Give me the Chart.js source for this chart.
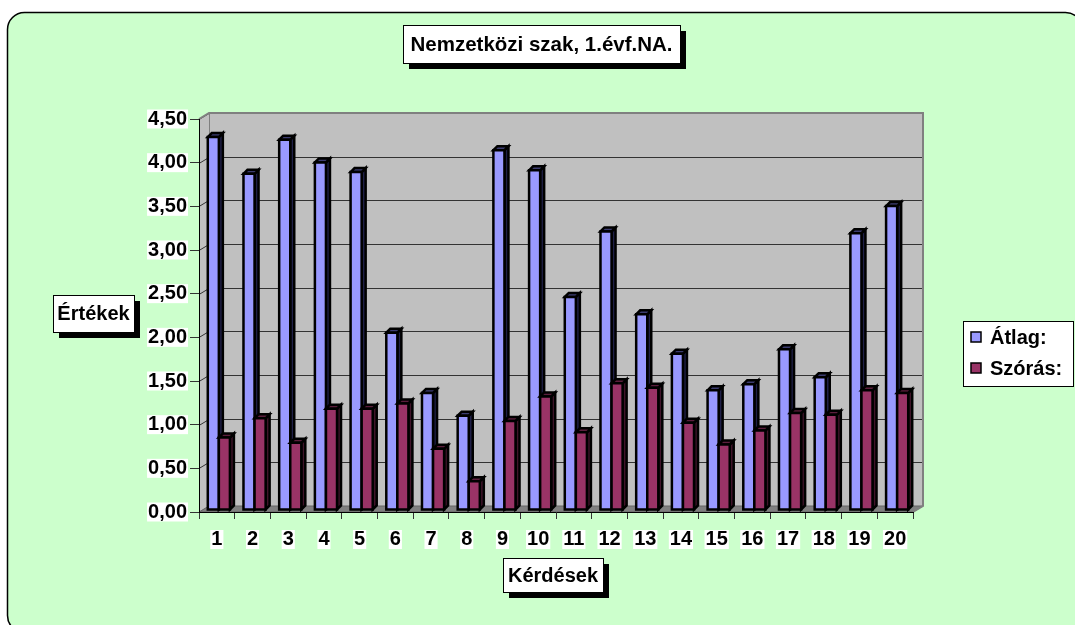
<!DOCTYPE html>
<html>
<head>
<meta charset="utf-8">
<script src="https://cdn.jsdelivr.net/npm/chart.js@4"></script>
<style>body{margin:0;background:#fff}</style>
</head>
<body>
<canvas id="chart" width="1075" height="625"></canvas>
<script>
const categories = ['1','2','3','4','5','6','7','8','9','10','11','12','13','14','15','16','17','18','19','20'];
const atlag  = [4.27, 3.85, 4.24, 3.98, 3.87, 2.03, 1.34, 1.08, 4.12, 3.89, 2.44, 3.19, 2.24, 1.79, 1.37, 1.44, 1.84, 1.52, 3.17, 3.48];
const szoras = [0.83, 1.05, 0.77, 1.16, 1.16, 1.22, 0.70, 0.33, 1.02, 1.30, 0.89, 1.45, 1.40, 1.00, 0.75, 0.91, 1.11, 1.09, 1.37, 1.34];
const seriesNames = ['Átlag:', 'Szórás:'];
const chartTitle = 'Nemzetközi szak, 1.évf.NA.';
const yTitle = 'Értékek';
const xTitle = 'Kérdések';

const FONT = 'Arial, "Liberation Sans", sans-serif';
const DX = 10, DY = 6;      // depth of the walls
const BD = 4;               // depth of a bar
const SHIFT = 2;            // bars stand a bit behind the front edge
const barFaces = [
  {front: '#9999FF', side: '#202048', top: '#3c3c70'},
  {front: '#993366', side: '#40142a', top: '#5c1e3d'}
];

function shadowBox(ctx, text, x1, y1, x2, y2, size) {
  ctx.fillStyle = '#000';
  ctx.fillRect(x1 + 6, y1 + 6, x2 - x1, y2 - y1);
  ctx.fillStyle = '#fff';
  ctx.fillRect(x1, y1, x2 - x1, y2 - y1);
  ctx.strokeStyle = '#000';
  ctx.lineWidth = 1;
  ctx.strokeRect(x1 + 0.5, y1 + 0.5, x2 - x1, y2 - y1);
  ctx.fillStyle = '#000';
  ctx.font = 'bold ' + (size || 20) + 'px ' + FONT;
  ctx.textAlign = 'center';
  ctx.textBaseline = 'middle';
  ctx.fillText(text, (x1 + x2) / 2, (y1 + y2) / 2 + 1);
}

function poly(ctx, pts, fill) {
  ctx.beginPath();
  ctx.moveTo(pts[0][0], pts[0][1]);
  for (let i = 1; i < pts.length; i++) ctx.lineTo(pts[i][0], pts[i][1]);
  ctx.closePath();
  ctx.fillStyle = fill;
  ctx.fill();
  ctx.stroke();
}

const decor = {
  id: 'decor',
  beforeDraw(chart) {
    const ctx = chart.ctx;
    const {left, right, top, bottom} = chart.chartArea;
    ctx.save();
    ctx.fillStyle = '#fff';
    ctx.fillRect(0, 0, chart.width, chart.height);
    ctx.beginPath();
    ctx.roundRect(7.5, 12.5, 1075, 620, 17);
    ctx.fillStyle = '#CCFFCC';
    ctx.fill();
    ctx.strokeStyle = '#000';
    ctx.lineWidth = 1.5;
    ctx.stroke();

    // walls
    ctx.fillStyle = '#C0C0C0';
    ctx.fillRect(left + DX, top - DY, right - left, bottom - top);
    ctx.beginPath();
    ctx.moveTo(left, top); ctx.lineTo(left + DX, top - DY);
    ctx.lineTo(left + DX, bottom - DY); ctx.lineTo(left, bottom);
    ctx.closePath();
    ctx.fill();

    // gridlines on the side and back walls
    const y = chart.scales.y;
    ctx.strokeStyle = '#333';
    ctx.lineWidth = 1;
    y.ticks.forEach(t => {
      const py = Math.round(y.getPixelForValue(t.value)) + 0.5;
      ctx.beginPath();
      ctx.moveTo(left, py);
      ctx.lineTo(left + DX, py - DY);
      ctx.lineTo(right + DX, py - DY);
      ctx.stroke();
    });

    // floor
    ctx.beginPath();
    ctx.moveTo(left, bottom); ctx.lineTo(right, bottom);
    ctx.lineTo(right + DX, bottom - DY); ctx.lineTo(left + DX, bottom - DY);
    ctx.closePath();
    ctx.fillStyle = '#808080';
    ctx.fill();
    ctx.strokeStyle = '#666';
    ctx.stroke();

    // wall edges
    ctx.strokeStyle = '#808080';
    ctx.lineWidth = 2;
    ctx.beginPath();
    ctx.moveTo(left, top); ctx.lineTo(left + DX, top - DY);
    ctx.lineTo(right + DX, top - DY); ctx.lineTo(right + DX, bottom - DY);
    ctx.lineTo(right, bottom);
    ctx.stroke();
    ctx.lineWidth = 1;
    ctx.beginPath();
    ctx.moveTo(left + DX + 0.5, top - DY); ctx.lineTo(left + DX + 0.5, bottom - DY);
    ctx.stroke();
    ctx.restore();
  },
  beforeDatasetDraw() {
    return false; // the 3D bars are drawn below, category by category
  },
  afterDatasetsDraw(chart) {
    const ctx = chart.ctx;
    ctx.save();
    ctx.strokeStyle = '#000';
    ctx.lineWidth = 2.5;
    ctx.lineJoin = 'miter';
    const metas = [chart.getDatasetMeta(0), chart.getDatasetMeta(1)];
    for (let i = 0; i < categories.length; i++) {
      metas.forEach((meta, k) => {
        const p = meta.data[i].getProps(['x', 'y', 'base', 'width'], true);
        const f = barFaces[k];
        const l = p.x - p.width / 2 + SHIFT, r = p.x + p.width / 2 + SHIFT;
        const t = p.y - SHIFT, b = p.base - SHIFT;
        poly(ctx, [[r, t], [r + BD, t - BD], [r + BD, b - BD], [r, b]], f.side);
        poly(ctx, [[l, t], [l + BD, t - BD], [r + BD, t - BD], [r, t]], f.top);
        poly(ctx, [[l, t], [r, t], [r, b], [l, b]], f.front);
      });
    }
    ctx.restore();
  },
  afterDraw(chart) {
    const ctx = chart.ctx;
    ctx.save();
    shadowBox(ctx, chartTitle, 403, 25, 680, 63, 20.5);
    shadowBox(ctx, yTitle, 53, 295, 134, 332);
    shadowBox(ctx, xTitle, 503, 558, 603, 592);

    // legend
    ctx.fillStyle = '#fff';
    ctx.fillRect(963, 321, 111, 66);
    ctx.strokeStyle = '#000';
    ctx.lineWidth = 1;
    ctx.strokeRect(963.5, 321.5, 110, 65);
    ctx.font = 'bold 20px ' + FONT;
    ctx.textAlign = 'left';
    ctx.textBaseline = 'middle';
    chart.data.datasets.forEach((ds, k) => {
      const cy = 337 + k * 31;
      ctx.fillStyle = ds.backgroundColor;
      ctx.fillRect(971, cy - 5, 10, 10);
      ctx.lineWidth = 1.5;
      ctx.strokeRect(971, cy - 5, 10, 10);
      ctx.fillStyle = '#000';
      ctx.fillText(ds.label, 990, cy + 1);
    });
    ctx.restore();
  }
};

new Chart(document.getElementById('chart'), {
  type: 'bar',
  data: {
    labels: categories,
    datasets: [
      {label: seriesNames[0], data: atlag, backgroundColor: '#9999FF', borderColor: '#000', borderWidth: 2},
      {label: seriesNames[1], data: szoras, backgroundColor: '#993366', borderColor: '#000', borderWidth: 2}
    ]
  },
  options: {
    responsive: false,
    animation: false,
    events: [],
    layout: {padding: {left: 0, right: 162, top: 119, bottom: 0}},
    datasets: {bar: {categoryPercentage: 0.62, barPercentage: 1}},
    plugins: {legend: {display: false}, title: {display: false}, tooltip: {enabled: false}},
    scales: {
      x: {
        afterFit(scale) { scale.height = 113; },
        grid: {drawOnChartArea: false, drawTicks: true, tickLength: 7, color: '#333'},
        border: {display: true, color: '#000', width: 1},
        ticks: {
          color: '#000', padding: 12, maxRotation: 0, autoSkip: false,
          font: {family: FONT, size: 20, weight: 'bold', lineHeight: 0.85},
          showLabelBackdrop: true, backdropColor: '#fff', backdropPadding: 1
        }
      },
      y: {
        min: 0, max: 4.5,
        afterFit(scale) { scale.width = 199; },
        grid: {drawOnChartArea: false, drawTicks: true, tickLength: 9, color: '#333'},
        border: {display: true, color: '#000', width: 1},
        ticks: {
          stepSize: 0.5, color: '#000', padding: 3,
          font: {family: FONT, size: 20, weight: 'bold', lineHeight: 0.85},
          showLabelBackdrop: true, backdropColor: '#fff', backdropPadding: 1,
          callback: v => v.toFixed(2).replace('.', ',')
        }
      }
    }
  },
  plugins: [decor]
});
</script>
</body>
</html>
